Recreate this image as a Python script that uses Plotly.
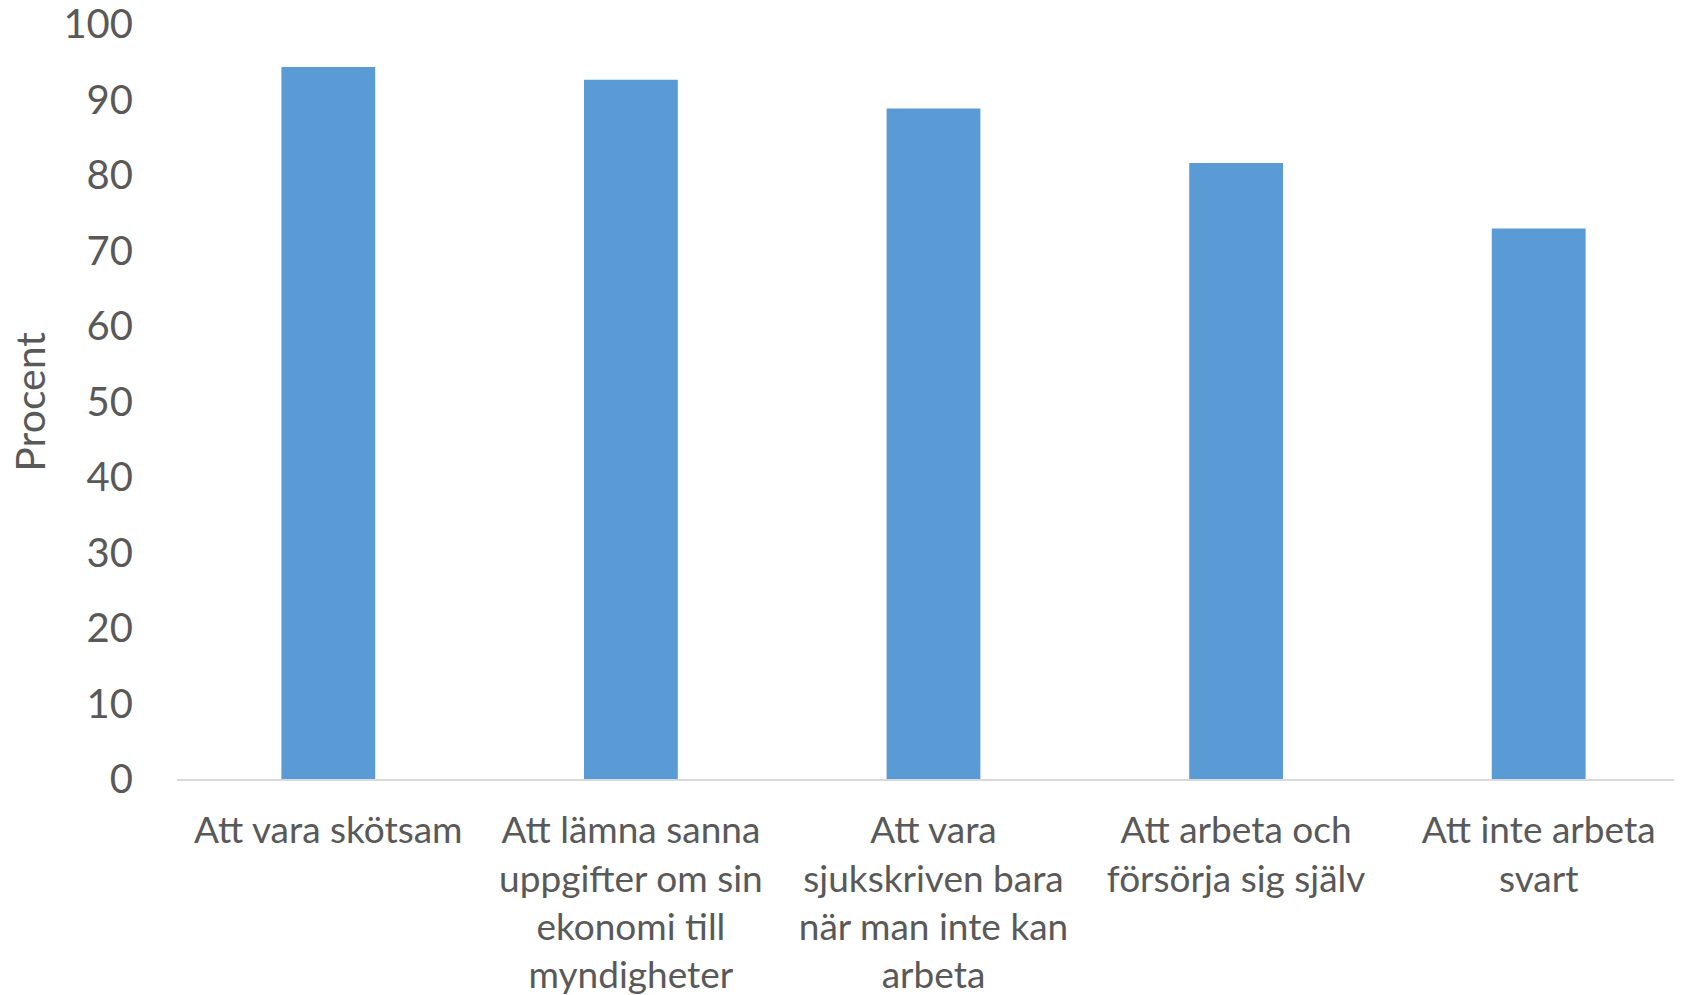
import plotly.graph_objects as go

categories = [
    "Att vara skötsam",
    "Att lämna sanna<br>uppgifter om sin<br>ekonomi till<br>myndigheter",
    "Att vara<br>sjukskriven bara<br>när man inte kan<br>arbeta",
    "Att arbeta och<br>försörja sig själv",
    "Att inte arbeta<br>svart",
]
values = [94.3, 92.6, 88.8, 81.6, 72.9]
y_ticks = list(range(0, 101, 10))

FONT = "Lato"
GREY = "#595959"

fig = go.Figure(
    go.Bar(x=categories, y=values, marker=dict(color="#5B9BD5", line=dict(width=0)), width=0.31)
)
fig.update_layout(
    width=1682, height=987,
    margin=dict(l=169, r=0, t=16, b=216),
    plot_bgcolor="white", paper_bgcolor="white",
    font=dict(family=FONT, size=37, color=GREY),
    showlegend=False,
    annotations=[dict(
        text="Procent", textangle=-90, xref="paper", yref="paper",
        x=-0.0977, y=0.5, xanchor="center", yanchor="middle", showarrow=False,
        font=dict(size=41, color=GREY),
    )],
)
fig.update_yaxes(
    range=[0, 100], tickvals=y_ticks, showgrid=False, zeroline=False,
    showline=False, ticks="", ticklabelstandoff=43, automargin=False,
    ticklabeloverflow="allow",
    tickfont=dict(size=40, color=GREY),
)
fig.update_xaxes(
    showline=True, linecolor="#d9d9d9", linewidth=2, ticks="", showgrid=False,
    ticklabelstandoff=18, tickangle=0, automargin=False, ticklabeloverflow="allow",
    tickfont=dict(size=37, color=GREY),
)
fig.write_html("out.html")
